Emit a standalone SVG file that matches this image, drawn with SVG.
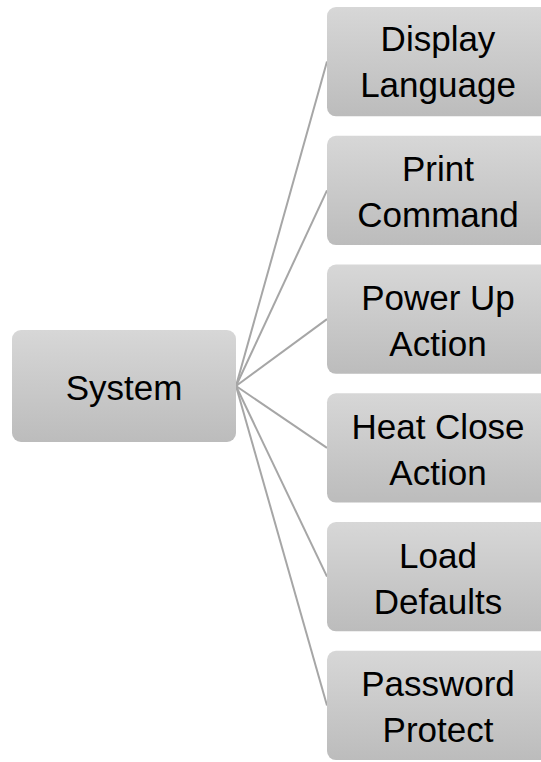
<svg xmlns="http://www.w3.org/2000/svg" width="541" height="762" viewBox="0 0 541 762">
<defs>
<linearGradient id="g" x1="0" y1="0" x2="0" y2="1">
<stop offset="0" stop-color="#d7d7d7"/>
<stop offset="1" stop-color="#bcbcbc"/>
</linearGradient>
<style>
.box{fill:url(#g);}
.t{font-family:"Liberation Sans",Arial,sans-serif;font-size:35px;fill:#000;text-anchor:middle;}
.c{stroke:#a6a6a6;stroke-width:2;fill:none;}
</style>
</defs>
<rect width="541" height="762" fill="#fff"/>
<g id="connectors">
<line class="c" x1="236" y1="386" x2="327" y2="61.6"/>
<line class="c" x1="236" y1="386" x2="327" y2="190.4"/>
<line class="c" x1="236" y1="386" x2="327" y2="319.1"/>
<line class="c" x1="236" y1="386" x2="327" y2="447.9"/>
<line class="c" x1="236" y1="386" x2="327" y2="576.6"/>
<line class="c" x1="236" y1="386" x2="327" y2="705.4"/>
</g>
<g id="system">
<rect class="box" x="12" y="330" width="224" height="112" rx="9"/>
<text class="t" x="124" y="400">System</text>
</g>
<g id="display-language">
<rect class="box" x="327" y="7" width="224" height="109.3" rx="9"/>
<text class="t" x="438" y="51">Display</text>
<text class="t" x="438" y="97">Language</text>
</g>
<g id="print-command">
<rect class="box" x="327" y="135.75" width="224" height="109.3" rx="9"/>
<text class="t" x="438" y="180.5">Print</text>
<text class="t" x="438" y="226.5">Command</text>
</g>
<g id="power-up-action">
<rect class="box" x="327" y="264.5" width="224" height="109.3" rx="9"/>
<text class="t" x="438" y="310">Power Up</text>
<text class="t" x="438" y="356">Action</text>
</g>
<g id="heat-close-action">
<rect class="box" x="327" y="393.25" width="224" height="109.3" rx="9"/>
<text class="t" x="438" y="438.5">Heat Close</text>
<text class="t" x="438" y="484.5">Action</text>
</g>
<g id="load-defaults">
<rect class="box" x="327" y="522" width="224" height="109.3" rx="9"/>
<text class="t" x="438" y="567.5">Load</text>
<text class="t" x="438" y="613.5">Defaults</text>
</g>
<g id="password-protect">
<rect class="box" x="327" y="650.75" width="224" height="109.3" rx="9"/>
<text class="t" x="438" y="696">Password</text>
<text class="t" x="438" y="742">Protect</text>
</g>
</svg>
